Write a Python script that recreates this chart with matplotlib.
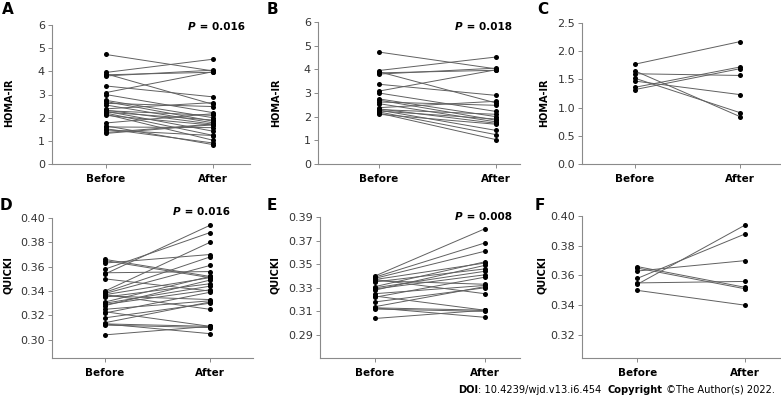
import matplotlib
matplotlib.use("Agg")
import numpy as np
import matplotlib.pyplot as plt
from matplotlib.text import Annotation

# HOMA-IR, subgroup B (paired: before -> after)
homa_b_before = [4.73, 3.95, 3.90, 3.85, 3.80, 3.37, 3.08, 3.00, 2.75, 2.70,
                 2.62, 2.55, 2.38, 2.33, 2.30, 2.28, 2.24, 2.20, 2.15, 2.10]
homa_b_after = [4.02, 4.52, 2.58, 3.96, 4.05, 2.90, 3.98, 2.22, 2.00, 1.85,
                2.48, 1.78, 2.65, 1.72, 2.10, 1.42, 1.90, 1.24, 1.03, 1.68]

# HOMA-IR, subgroup C
homa_c_before = [1.77, 1.65, 1.60, 1.52, 1.47, 1.36, 1.32]
homa_c_after = [2.17, 0.84, 1.57, 0.91, 1.23, 1.72, 1.69]

# QUICKI, subgroup E
quicki_e_before = [0.340, 0.339, 0.338, 0.337, 0.336, 0.335, 0.331, 0.330, 0.329, 0.328,
                   0.325, 0.323, 0.322, 0.318, 0.314, 0.313, 0.313, 0.312, 0.304, 0.337]
quicki_e_after = [0.380, 0.368, 0.361, 0.351, 0.333, 0.346, 0.352, 0.344, 0.341, 0.349,
                  0.332, 0.311, 0.339, 0.330, 0.331, 0.311, 0.305, 0.310, 0.311, 0.325]

# QUICKI, subgroup F
quicki_f_before = [0.366, 0.365, 0.363, 0.358, 0.355, 0.354, 0.350]
quicki_f_after = [0.352, 0.351, 0.370, 0.388, 0.356, 0.394, 0.340]

# panels A and D are the whole cohort
homa_a_before = homa_b_before + homa_c_before
homa_a_after = homa_b_after + homa_c_after
quicki_d_before = quicki_e_before + quicki_f_before
quicki_d_after = quicki_e_after + quicki_f_after

groups = ["Before", "After"]

W, H = 781, 399


def px_axes(fig, left, right, top, bottom):
    ax = fig.add_axes([left / W, 1 - bottom / H, (right - left) / W, (bottom - top) / H])
    ax._px = (left, right, top, bottom)
    return ax


def draw_panel(ax, before, after, ylim, yticks, yfmt, xlim, ylabel, label_px):
    for b, a in zip(before, after):
        ax.plot([0, 1], [b, a], color="#606060", lw=0.7, zorder=2)
    ax.scatter(np.zeros(len(before)), before, s=13, color="black", zorder=3, lw=0)
    ax.scatter(np.ones(len(after)), after, s=13, color="black", zorder=3, lw=0)
    ax.set_xlim(*xlim)
    ax.set_ylim(*ylim)
    ax.set_yticks(yticks)
    ax.set_yticklabels([yfmt.format(v) for v in yticks])
    ax.set_xticks([0, 1])
    ax.set_xticklabels(groups, fontweight="bold", fontsize=7.5)
    for s in ["top", "right"]:
        ax.spines[s].set_visible(False)
    for s in ["left", "bottom"]:
        ax.spines[s].set_color("#8a8a8a")
        ax.spines[s].set_linewidth(0.8)
    ax.tick_params(axis="both", direction="out", length=3, width=0.7, color="#8a8a8a")
    ax.tick_params(axis="y", labelsize=8, labelcolor="#333333", pad=2)
    ax.tick_params(axis="x", pad=4)
    ax.set_ylabel(ylabel, fontweight="bold", fontsize=7)
    # label x is the right edge of the rotated text
    left, right, top, bottom = ax._px
    lx, ly = label_px
    ax.yaxis.set_label_coords((lx - left) / (right - left), (bottom - ly) / (bottom - top))
    ax.patch.set_alpha(0)


fig = plt.figure(figsize=(W / 100, H / 100), dpi=100)

axA = px_axes(fig, 52, 250, 25, 164)
draw_panel(axA, homa_a_before, homa_a_after, (0, 6), [0, 1, 2, 3, 4, 5, 6], "{:.0f}",
           (-0.5, 1.35), "HOMA-IR", (14, 103))
axB = px_axes(fig, 318, 520, 22, 164)
draw_panel(axB, homa_b_before, homa_b_after, (0, 6), [0, 1, 2, 3, 4, 5, 6], "{:.0f}",
           (-0.52, 1.205), "HOMA-IR", (281, 103))
axC = px_axes(fig, 582, 781, 23, 164)
draw_panel(axC, homa_c_before, homa_c_after, (0, 2.5), [0, 0.5, 1.0, 1.5, 2.0, 2.5], "{:.1f}",
           (-0.505, 1.39), "HOMA-IR", (549, 103))
axD = px_axes(fig, 52, 253, 218, 358)
draw_panel(axD, quicki_d_before, quicki_d_after, (0.285, 0.40),
           [0.30, 0.32, 0.34, 0.36, 0.38, 0.40], "{:.2f}", (-0.505, 1.41), "QUICKI", (13, 275))
axE = px_axes(fig, 320, 520, 217, 358)
draw_panel(axE, quicki_e_before, quicki_e_after, (0.2705, 0.39),
           [0.29, 0.31, 0.33, 0.35, 0.37, 0.39], "{:.2f}", (-0.5, 1.32), "QUICKI", (280, 275))
axF = px_axes(fig, 582, 781, 216, 358)
draw_panel(axF, quicki_f_before, quicki_f_after, (0.3045, 0.40),
           [0.32, 0.34, 0.36, 0.38, 0.40], "{:.2f}", (-0.51, 1.33), "QUICKI", (547, 275))

# p-values: italic bold P followed by the value
p_texts = [("0.016", 188, 27), ("0.018", 455, 27), ("0.016", 173, 212), ("0.008", 455, 217)]
for p, x, y in p_texts:
    tp = fig.text(x / W, 1 - y / H, "P", ha="left", va="center",
                  fontsize=7.5, fontweight="bold", fontstyle="italic")
    fig.add_artist(Annotation(" = " + p, xy=(1, 0.5), xycoords=tp, va="center", ha="left",
                              fontsize=7.5, fontweight="bold"))

# panel letters
for lbl, x, y in [("A", 2, 9), ("B", 267, 9.5), ("C", 537, 9.5),
                  ("D", 0, 205), ("E", 267, 205), ("F", 535, 205)]:
    fig.text(x / W, 1 - y / H, lbl, ha="left", va="center", fontsize=11, fontweight="bold")

# footer
fy = 1 - 390 / H
fs = 7.1
prev = fig.text(458 / W, fy, "DOI", fontsize=fs, fontweight="bold", va="center")
for txt, wt in [(": 10.4239/wjd.v13.i6.454  ", "normal"), ("Copyright", "bold"),
                (" \u00a9The Author(s) 2022.", "normal")]:
    ann = Annotation(txt, xy=(1, 0.5), xycoords=prev, va="center", ha="left",
                     fontsize=fs, fontweight=wt)
    fig.add_artist(ann)
    prev = ann

fig.savefig("out.png", dpi=100)
